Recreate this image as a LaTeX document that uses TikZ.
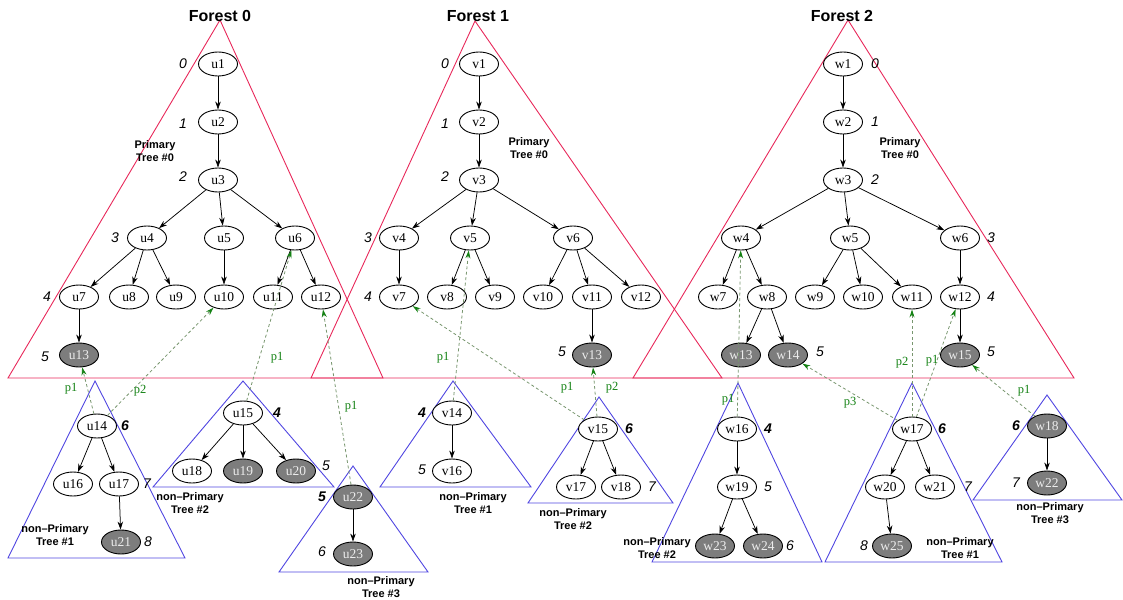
\documentclass[tikz,border=0pt]{standalone}
\usepackage{fontspec}
\setmainfont{Liberation Serif}
\newfontfamily\hsans{Liberation Sans}
\usetikzlibrary{arrows.meta,shapes.geometric}
\definecolor{fred}{RGB}{232,40,90}
\definecolor{tblue}{RGB}{80,70,225}
\definecolor{pgreen}{RGB}{20,130,20}
\definecolor{pdash}{RGB}{120,150,110}
\definecolor{gfill}{RGB}{125,125,125}
\begin{document}
\begin{tikzpicture}[x=1pt,y=-1pt,
  tn/.style={ellipse,draw,fill=white,line width=0.9pt,minimum width=39pt,minimum height=24pt,inner sep=0pt,font=\fontsize{13.5}{13.5}\selectfont},
  gn/.style={tn,fill=gfill,text=white!85!gray},
  lvl/.style={font=\hsans\itshape\fontsize{14}{14}\selectfont},
  lvlb/.style={font=\hsans\bfseries\itshape\fontsize{14}{14}\selectfont},
  ttl/.style={font=\hsans\bfseries\fontsize{16}{16}\selectfont},
  tlab/.style={font=\hsans\bfseries\fontsize{11}{13}\selectfont,align=center},
  edge/.style={draw,line width=0.75pt,-{Stealth[length=8pt,width=5.5pt]}},
  ptr/.style={draw=pdash,line width=0.8pt,dash pattern=on 3pt off 2.5pt,-{Stealth[length=8pt,width=5pt,color=pgreen,fill=pgreen]}},
  plab/.style={text=pgreen,font=\fontsize{12.5}{12.5}\selectfont},
  primtri/.style={draw=fred,line width=0.9pt},
  subtri/.style={draw=tblue,line width=0.9pt}]
\useasboundingbox (0,0) rectangle (1123,599);

% ---------- primary trees (red) ----------
\draw[primtri] (220,20) -- (8,378) -- (383,378) -- cycle;
\draw[primtri] (475,21) -- (311,378) -- (722,378) -- cycle;
\draw[primtri] (848,20) -- (633,378) -- (1074,378) -- cycle;

% ---------- non-primary trees (blue) ----------
\draw[subtri] (95,381) -- (8,558) -- (185,558) -- cycle;
\draw[subtri] (243,381) -- (153,487) -- (334,487) -- cycle;
\draw[subtri] (353,466) -- (279,572) -- (428,572) -- cycle;
\draw[subtri] (453,381) -- (380,487) -- (531,487) -- cycle;
\draw[subtri] (599,397) -- (528,503) -- (673,503) -- cycle;
\draw[subtri] (738,383) -- (652,562) -- (822,562) -- cycle;
\draw[subtri] (912,383) -- (825,562) -- (1002,562) -- cycle;
\draw[subtri] (1047,395) -- (973,500) -- (1122,500) -- cycle;

% ---------- titles ----------
\node[ttl] (f0) at (220,16) {Forest 0};
\node[ttl] (f1) at (478,16) {Forest 1};
\node[ttl] (f2) at (842,16) {Forest 2};

\node[tlab] (pt0) at (155,151) {Primary\\Tree \#0};
\node[tlab] (pt1) at (529,148) {Primary\\Tree \#0};
\node[tlab] (pt2) at (900,148) {Primary\\Tree \#0};

% ================= Forest 0 =================
\node[tn] (u1) at (218,64) {u1};
\node[tn] (u2) at (218,122) {u2};
\node[tn] (u3) at (218,180) {u3};
\node[tn] (u4) at (147,238) {u4};
\node[tn] (u5) at (224,238) {u5};
\node[tn] (u6) at (295,238) {u6};
\node[tn] (u7) at (79,297) {u7};
\node[tn] (u8) at (129,297) {u8};
\node[tn] (u9) at (176,297) {u9};
\node[tn] (u10) at (224,297) {u10};
\node[tn] (u11) at (273,297) {u11};
\node[tn] (u12) at (321,297) {u12};
\node[gn] (u13) at (79,355) {u13};
\node[lvl] (a0) at (183,64) {0};
\node[lvl] (a1) at (183,124) {1};
\node[lvl] (a2) at (183,177) {2};
\node[lvl] (a3) at (115,238) {3};
\node[lvl] (a4) at (47,297) {4};
\node[lvl] (a5) at (45,357) {5};
\draw[edge] (u1) -- (u2);
\draw[edge] (u2) -- (u3);
\draw[edge] (u3) -- (u4);
\draw[edge] (u3) -- (u5);
\draw[edge] (u3) -- (u6);
\draw[edge] (u4) -- (u7);
\draw[edge] (u4) -- (u8);
\draw[edge] (u4) -- (u9);
\draw[edge] (u5) -- (u10);
\draw[edge] (u6) -- (u11);
\draw[edge] (u6) -- (u12);
\draw[edge] (u7) -- (u13);

% non-primary tree #1
\node[tn] (u14) at (97,426) {u14};
\node[tn] (u16) at (73,484) {u16};
\node[tn] (u17) at (119,484) {u17};
\node[gn] (u21) at (121,542) {u21};
\node[lvlb] (a6) at (125,426) {6};
\node[lvl] (a7) at (147,484) {7};
\node[lvl] (a8) at (148,542) {8};
\node[tlab] (np01) at (55,535) {non–Primary\\Tree \#1};
\draw[edge] (u14) -- (u16);
\draw[edge] (u14) -- (u17);
\draw[edge] (u17) -- (u21);

% non-primary tree #2
\node[tn] (u15) at (243,413) {u15};
\node[tn] (u18) at (192,471) {u18};
\node[gn] (u19) at (243,471) {u19};
\node[gn] (u20) at (296,471) {u20};
\node[lvlb] (b4) at (277,413) {4};
\node[lvl] (b5) at (326,466) {5};
\node[tlab] (np02) at (190,503) {non–Primary\\Tree \#2};
\draw[edge] (u15) -- (u18);
\draw[edge] (u15) -- (u19);
\draw[edge] (u15) -- (u20);

% non-primary tree #3
\node[gn] (u22) at (353,497) {u22};
\node[gn] (u23) at (353,554) {u23};
\node[lvlb] (c5) at (322,497) {5};
\node[lvl] (c6) at (322,552) {6};
\node[tlab] (np03) at (381,587) {non–Primary\\Tree \#3};
\draw[edge] (u22) -- (u23);

% ================= Forest 1 =================
\node[tn] (v1) at (479,64) {v1};
\node[tn] (v2) at (479,122) {v2};
\node[tn] (v3) at (479,180) {v3};
\node[tn] (v4) at (399,238) {v4};
\node[tn] (v5) at (470,238) {v5};
\node[tn] (v6) at (573,238) {v6};
\node[tn] (v7) at (399,297) {v7};
\node[tn] (v8) at (447,297) {v8};
\node[tn] (v9) at (495,297) {v9};
\node[tn] (v10) at (543,297) {v10};
\node[tn] (v11) at (592,297) {v11};
\node[tn] (v12) at (641,297) {v12};
\node[gn] (v13) at (592,355) {v13};
\node[lvl] (d0) at (445,64) {0};
\node[lvl] (d1) at (445,124) {1};
\node[lvl] (d2) at (445,177) {2};
\node[lvl] (d3) at (368,238) {3};
\node[lvl] (d4) at (368,297) {4};
\node[lvl] (d5) at (562,352) {5};
\draw[edge] (v1) -- (v2);
\draw[edge] (v2) -- (v3);
\draw[edge] (v3) -- (v4);
\draw[edge] (v3) -- (v5);
\draw[edge] (v3) -- (v6);
\draw[edge] (v4) -- (v7);
\draw[edge] (v5) -- (v8);
\draw[edge] (v5) -- (v9);
\draw[edge] (v6) -- (v10);
\draw[edge] (v6) -- (v11);
\draw[edge] (v6) -- (v12);
\draw[edge] (v11) -- (v13);

% non-primary tree #1
\node[tn] (v14) at (452,413) {v14};
\node[tn] (v16) at (452,471) {v16};
\node[lvlb] (e4) at (422,413) {4};
\node[lvl] (e5) at (422,470) {5};
\node[tlab] (np11) at (473,503) {non–Primary\\Tree \#1};
\draw[edge] (v14) -- (v16);

% non-primary tree #2
\node[tn] (v15) at (598,429) {v15};
\node[tn] (v17) at (576,487) {v17};
\node[tn] (v18) at (621,487) {v18};
\node[lvlb] (g6) at (629,429) {6};
\node[lvl] (g7) at (652,487) {7};
\node[tlab] (np12) at (573,519) {non–Primary\\Tree \#2};
\draw[edge] (v15) -- (v17);
\draw[edge] (v15) -- (v18);

% ================= Forest 2 =================
\node[tn] (w1) at (843,64) {w1};
\node[tn] (w2) at (843,122) {w2};
\node[tn] (w3) at (843,180) {w3};
\node[tn] (w4) at (741,238) {w4};
\node[tn] (w5) at (850,238) {w5};
\node[tn] (w6) at (960,238) {w6};
\node[tn] (w7) at (718,297) {w7};
\node[tn] (w8) at (767,297) {w8};
\node[tn] (w9) at (815,297) {w9};
\node[tn] (w10) at (863,297) {w10};
\node[tn] (w11) at (912,297) {w11};
\node[tn] (w12) at (960,297) {w12};
\node[gn] (w13) at (741,355) {w13};
\node[gn] (w14) at (788,355) {w14};
\node[gn] (w15) at (960,355) {w15};
\node[lvl] (h0) at (875,64) {0};
\node[lvl] (h1) at (875,122) {1};
\node[lvl] (h2) at (875,180) {2};
\node[lvl] (h3) at (991,238) {3};
\node[lvl] (h4) at (991,297) {4};
\node[lvl] (h5a) at (820,352) {5};
\node[lvl] (h5b) at (991,352) {5};
\draw[edge] (w1) -- (w2);
\draw[edge] (w2) -- (w3);
\draw[edge] (w3) -- (w4);
\draw[edge] (w3) -- (w5);
\draw[edge] (w3) -- (w6);
\draw[edge] (w4) -- (w7);
\draw[edge] (w4) -- (w8);
\draw[edge] (w8) -- (w13);
\draw[edge] (w8) -- (w14);
\draw[edge] (w5) -- (w9);
\draw[edge] (w5) -- (w10);
\draw[edge] (w5) -- (w11);
\draw[edge] (w6) -- (w12);
\draw[edge] (w12) -- (w15);

% non-primary tree #2
\node[tn] (w16) at (737,429) {w16};
\node[tn] (w19) at (737,487) {w19};
\node[gn] (w23) at (715,546) {w23};
\node[gn] (w24) at (763,546) {w24};
\node[lvlb] (k4) at (768,429) {4};
\node[lvl] (k5) at (768,487) {5};
\node[lvl] (k6) at (790,546) {6};
\node[tlab] (np22) at (657,548) {non–Primary\\Tree \#2};
\draw[edge] (w16) -- (w19);
\draw[edge] (w19) -- (w23);
\draw[edge] (w19) -- (w24);

% non-primary tree #1
\node[tn] (w17) at (912,429) {w17};
\node[tn] (w20) at (885,487) {w20};
\node[tn] (w21) at (935,487) {w21};
\node[gn] (w25) at (892,546) {w25};
\node[lvlb] (m6) at (942,429) {6};
\node[lvl] (m7) at (968,487) {7};
\node[lvl] (m8) at (864,546) {8};
\node[tlab] (np21) at (960,548) {non–Primary\\Tree \#1};
\draw[edge] (w17) -- (w20);
\draw[edge] (w17) -- (w21);
\draw[edge] (w20) -- (w25);

% non-primary tree #3
\node[gn] (w18) at (1047,426) {w18};
\node[gn] (w22) at (1047,483) {w22};
\node[lvlb] (n6) at (1016,426) {6};
\node[lvl] (n7) at (1016,483) {7};
\node[tlab] (np23) at (1050,513) {non–Primary\\Tree \#3};
\draw[edge] (w18) -- (w22);

% ---------- pointers between trees ----------
\draw[ptr] (u14) -- (u13);
\draw[ptr] (u14) -- (u10);
\draw[ptr] (u15) -- (u6);
\draw[ptr] (u22) -- (u12);
\draw[ptr] (v14) -- (v5);
\draw[ptr] (v15) -- (v7);
\draw[ptr] (v15) -- (v13);
\draw[ptr] (w16) -- (w4);
\draw[ptr] (w17) -- (w14);
\draw[ptr] (w17) -- (w11);
\draw[ptr] (w17) -- (w12);
\draw[ptr] (w18) -- (w15);

\node[plab] (l1) at (71,389) {p1};
\node[plab] (l2) at (140,391) {p2};
\node[plab] (l3) at (277,358) {p1};
\node[plab] (l4) at (351,407) {p1};
\node[plab] (l5) at (443,358) {p1};
\node[plab] (l6) at (567,388) {p1};
\node[plab] (l7) at (612,388) {p2};
\node[plab] (l8) at (728,400) {p1};
\node[plab] (l9) at (850,403) {p3};
\node[plab] (l10) at (902,363) {p2};
\node[plab] (l11) at (932,361) {p1};
\node[plab] (l12) at (1024,391) {p1};
\end{tikzpicture}
\end{document}
